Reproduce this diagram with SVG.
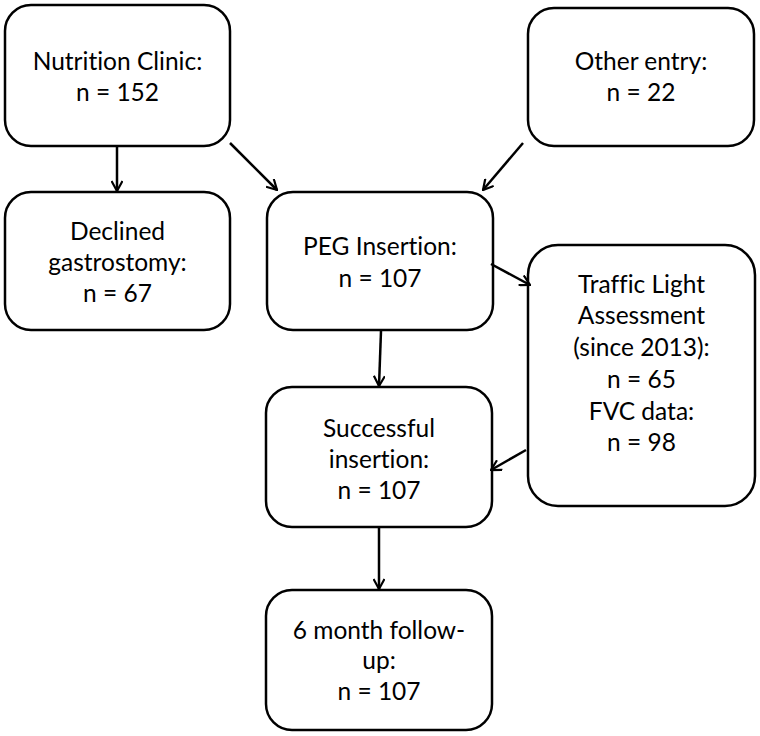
<svg xmlns="http://www.w3.org/2000/svg" width="760" height="736" viewBox="0 0 760 736">
<style>
.box{fill:#fff;stroke:#000;stroke-width:2.5}
.t{font-family:Lato,"Liberation Sans",sans-serif;font-size:24.5px;fill:#000;text-anchor:middle;font-variant-ligatures:none}
.c{stroke:#000;stroke-width:2.5;fill:none;marker-end:url(#arr)}
</style>
<defs>
<marker id="arr" viewBox="0 0 12 12" refX="11" refY="6" markerWidth="12" markerHeight="12" markerUnits="userSpaceOnUse" orient="auto">
<path d="M1,0.5 L11,6 L1,11.5" fill="none" stroke="#000" stroke-width="2.2"/>
</marker>
</defs>
<rect width="760" height="736" fill="#fff"/>
<g id="nutrition">
<rect class="box" x="5" y="5" width="225" height="141" rx="26"/>
<text class="t" x="117.5" y="70">Nutrition Clinic:</text>
<text class="t" x="117.5" y="101">n = 152</text>
</g>
<g id="other">
<rect class="box" x="528" y="8" width="226" height="138" rx="26"/>
<text class="t" x="641" y="70">Other entry:</text>
<text class="t" x="641" y="101">n = 22</text>
</g>
<g id="declined">
<rect class="box" x="5" y="192" width="225" height="138" rx="26"/>
<text class="t" x="117.5" y="240">Declined</text>
<text class="t" x="117.5" y="271">gastrostomy:</text>
<text class="t" x="117.5" y="302">n = 67</text>
</g>
<g id="peg">
<rect class="box" x="267" y="192" width="226" height="138" rx="26"/>
<text class="t" x="380" y="255">PEG Insertion:</text>
<text class="t" x="380" y="287">n = 107</text>
</g>
<g id="traffic">
<rect class="box" x="528" y="245" width="227" height="261" rx="30"/>
<text class="t" x="641.5" y="293">Traffic Light</text>
<text class="t" x="641.5" y="324">Assessment</text>
<text class="t" x="641.5" y="356">(since 2013):</text>
<text class="t" x="641.5" y="388">n = 65</text>
<text class="t" x="641.5" y="420">FVC data:</text>
<text class="t" x="641.5" y="451">n = 98</text>
</g>
<g id="successful">
<rect class="box" x="266" y="387" width="226" height="140" rx="26"/>
<text class="t" x="379" y="437">Successful</text>
<text class="t" x="379" y="468">insertion:</text>
<text class="t" x="379" y="499">n = 107</text>
</g>
<g id="followup">
<rect class="box" x="266" y="590" width="226" height="140" rx="26"/>
<text class="t" x="379" y="639">6 month follow-</text>
<text class="t" x="379" y="669">up:</text>
<text class="t" x="379" y="700">n = 107</text>
</g>
<g id="connectors">
<line class="c" x1="117" y1="146" x2="117" y2="191"/>
<line class="c" x1="230" y1="143" x2="277" y2="190"/>
<line class="c" x1="523" y1="143" x2="483" y2="190"/>
<line class="c" x1="491" y1="264" x2="530" y2="285"/>
<line class="c" x1="381" y1="331" x2="379" y2="386"/>
<line class="c" x1="526" y1="450" x2="491" y2="470"/>
<line class="c" x1="379" y1="528" x2="379" y2="589"/>
</g>
</svg>
